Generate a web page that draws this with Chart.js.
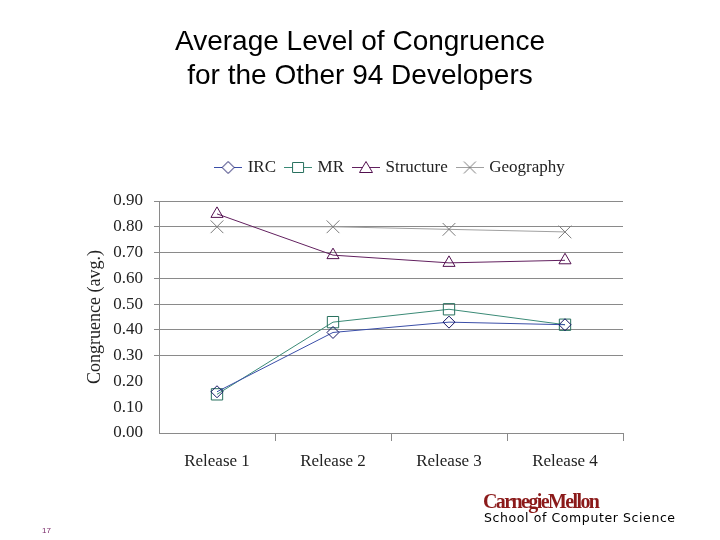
<!DOCTYPE html>
<html>
<head>
<meta charset="utf-8">
<script src="https://cdn.jsdelivr.net/npm/chart.js@4.4.1/dist/chart.umd.min.js"></script>
<style>
  body { margin: 0; background: #fff; }
  #wrap { position: relative; width: 720px; height: 540px; overflow: hidden; }
  #chart { position: absolute; left: 0; top: 0; }
  .title { position: absolute; left: 0; width: 720px; text-align: center;
           font-family: "Liberation Sans", Arial, sans-serif; font-size: 28px; color: #000; }
  #cmu { position: absolute; left: 483px; top: 490px; font-family: "Liberation Serif", serif;
         font-weight: bold; font-size: 20px; color: #8b1a1a; letter-spacing: -1.6px; }
  #scs { position: absolute; left: 484px; top: 510px; font-family: "DejaVu Sans", sans-serif;
         font-size: 12.5px; color: #000; letter-spacing: 0.6px; }
  #page { position: absolute; left: 42px; top: 526px; font-family: "Liberation Sans", sans-serif;
          font-size: 8px; color: #7a2a6a; }
</style>
</head>
<body>
<div id="wrap">
  <canvas id="chart" width="720" height="540"></canvas>
  <div class="title" style="top:25px">Average Level of Congruence</div>
  <div class="title" style="top:59px">for the Other 94 Developers</div>
  <div id="cmu">CarnegieMellon</div>
  <div id="scs">School of Computer Science</div>
  <div id="page">17</div>
</div>
<script>
const categories = ['Release 1', 'Release 2', 'Release 3', 'Release 4'];
const seriesNames = ['IRC', 'MR', 'Structure', 'Geography'];
const ircValues = [0.16, 0.39, 0.43, 0.42];
const mrValues = [0.15, 0.43, 0.48, 0.42];
const structureValues = [0.85, 0.69, 0.66, 0.67];
const geographyValues = [0.80, 0.80, 0.79, 0.78];
const yTickValues = [0, 0.1, 0.2, 0.3, 0.4, 0.5, 0.6, 0.7, 0.8, 0.9];

const serif = '"Liberation Serif", "Times New Roman", serif';

// little legend icon: line with the marker in the middle
function makeIcon(style, lineColor, markColor) {
    const c = document.createElement('canvas');
    c.width = 28; c.height = 17;
    const g = c.getContext('2d');
    g.strokeStyle = lineColor;
    g.lineWidth = 1;
    g.beginPath(); g.moveTo(0, 8.5); g.lineTo(28, 8.5); g.stroke();
    g.strokeStyle = markColor;
    g.fillStyle = '#fff';
    g.beginPath();
    if (style === 'rectRot') {
        g.moveTo(14, 2.5); g.lineTo(20, 8.5); g.lineTo(14, 14.5); g.lineTo(8, 8.5); g.closePath();
        g.fill(); g.stroke();
    } else if (style === 'rect') {
        g.rect(8.5, 3.5, 11, 10); g.fill(); g.stroke();
    } else if (style === 'triangle') {
        g.moveTo(14, 2.5); g.lineTo(20.5, 13.5); g.lineTo(7.5, 13.5); g.closePath();
        g.fill(); g.stroke();
    } else {
        g.moveTo(8, 2.5); g.lineTo(20, 14.5); g.moveTo(20, 2.5); g.lineTo(8, 14.5); g.stroke();
    }
    return c;
}

const styles = [
    { line: '#3a4ea8', mark: '#141464', point: 'rectRot', radius: 6 },
    { line: '#3a8a76', mark: '#28705e', point: 'rect', radius: 8 },
    { line: '#62205f', mark: '#52104f', point: 'triangle', radius: 7 },
    { line: '#a0a0a0', mark: '#7a7a7a', point: 'crossRot', radius: 9 }
];
const icons = styles.map(s => makeIcon(s.point, s.line, s.mark));
const values = [ircValues, mrValues, structureValues, geographyValues];

const datasets = seriesNames.map((name, i) => ({
    label: name,
    data: values[i],
    borderColor: styles[i].line,
    borderWidth: 1,
    pointStyle: styles[i].point,
    pointRadius: styles[i].radius,
    pointBorderColor: styles[i].mark,
    pointBackgroundColor: 'rgba(255,255,255,0)',
    pointBorderWidth: 1,
    tension: 0,
    fill: false
}));

const legendGap = {
    id: 'legendGap',
    beforeLayout(chart) {
        if (chart.legend && !chart.legend._gapped) {
            const fit = chart.legend.fit;
            chart.legend.fit = function () { fit.call(this); this.height += 15; };
            chart.legend._gapped = true;
        }
    }
};

const gridColor = '#8a8a8a';

new Chart(document.getElementById('chart'), {
    type: 'line',
    data: { labels: categories, datasets: datasets },
    plugins: [legendGap],
    options: {
        responsive: false,
        animation: false,
        layout: { padding: { left: 84, right: 97, top: 148, bottom: 67 } },
        plugins: {
            tooltip: { enabled: false },
            legend: {
                position: 'top',
                fullSize: false,
                labels: {
                    usePointStyle: true,
                    pointStyleWidth: 22,
                    padding: 11,
                    color: '#222',
                    font: { family: serif, size: 17 },
                    generateLabels(chart) {
                        const items = Chart.defaults.plugins.legend.labels.generateLabels(chart);
                        items.forEach((it, i) => { it.pointStyle = icons[i]; });
                        return items;
                    }
                }
            }
        },
        scales: {
            x: {
                offset: true,
                grid: {
                    offset: true,
                    drawOnChartArea: false,
                    tickLength: 8,
                    color: ctx => (ctx.index === 0 || ctx.index >= categories.length) ? 'rgba(0,0,0,0)' : gridColor
                },
                border: { display: true, color: gridColor },
                ticks: { color: '#222', padding: 10, font: { family: serif, size: 17 } },
                afterFit(scale) { scale.height = 40; }
            },
            y: {
                min: 0,
                max: 0.9,
                afterBuildTicks(scale) { scale.ticks = yTickValues.map(v => ({ value: v })); },
                grid: {
                    tickLength: 5,
                    color: ctx => (ctx.tick && ctx.tick.value > 0.25) ? gridColor : 'rgba(0,0,0,0)'
                },
                border: { display: true, color: gridColor },
                ticks: {
                    color: '#222',
                    padding: 11,
                    font: { family: serif, size: 17 },
                    callback: v => Number(v).toFixed(2)
                },
                title: {
                    display: true,
                    text: 'Congruence (avg.)',
                    color: '#222',
                    font: { family: serif, size: 18 },
                    padding: { top: 0, bottom: 4 }
                },
                afterFit(scale) { scale.width = 75; }
            }
        }
    }
});
</script>
</body>
</html>
